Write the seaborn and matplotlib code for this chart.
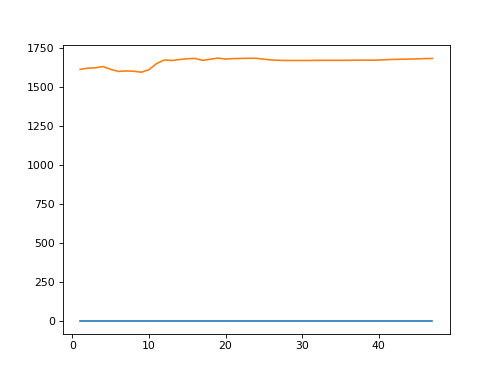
import matplotlib
matplotlib.use("Agg")
import matplotlib.pyplot as plt
import seaborn as sns
import numpy as np

x_vals = list(range(1, 48))
series_low = [2] * 47
series_high = [1610, 1618, 1620, 1628, 1610, 1597, 1600, 1598, 1592, 1608,
               1648, 1670, 1667, 1673, 1678, 1680, 1668, 1675, 1682, 1676,
               1679, 1680, 1681, 1681, 1675, 1670, 1668, 1667, 1667, 1667,
               1667, 1668, 1668, 1668, 1668, 1668, 1669, 1669, 1669, 1670,
               1672, 1674, 1675, 1676, 1677, 1679, 1680]

fig, ax = plt.subplots(figsize=(6.4, 4.8), dpi=78.125)
sns.lineplot(x=x_vals, y=series_low, ax=ax, color="#1f77b4", linewidth=1.5)
sns.lineplot(x=x_vals, y=series_high, ax=ax, color="#ff7f0e", linewidth=1.5)
fig.savefig("out.png", dpi=78.125)
